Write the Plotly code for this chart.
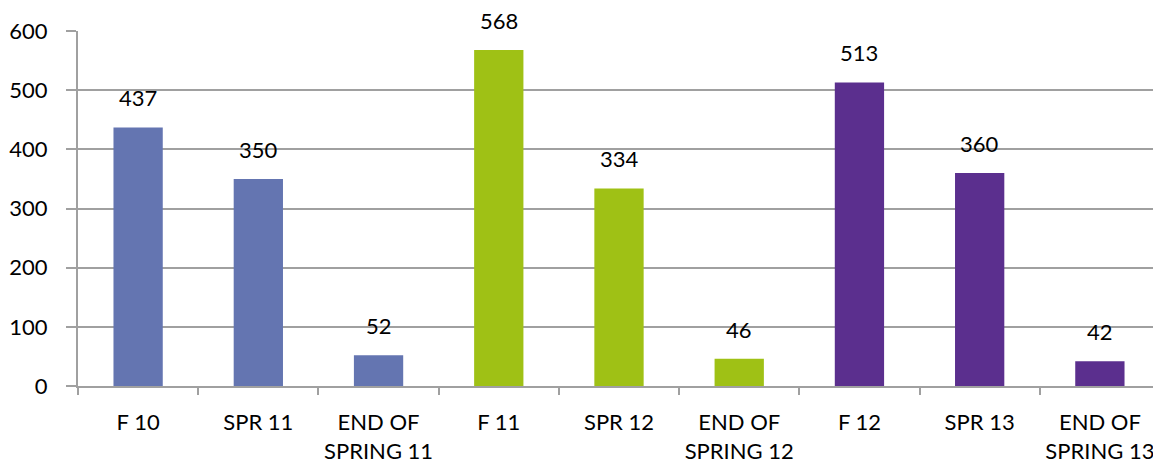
import plotly.graph_objects as go

categories = ['F 10', 'SPR 11', 'END OF<br>SPRING 11',
              'F 11', 'SPR 12', 'END OF<br>SPRING 12',
              'F 12', 'SPR 13', 'END OF<br>SPRING 13']
counts = [437, 350, 52, 568, 334, 46, 513, 360, 42]
year_group = ['2010', '2010', '2010', '2011', '2011', '2011', '2012', '2012', '2012']

group_colors = {'2010': '#6475B1', '2011': '#9FC115', '2012': '#5B2F8E'}
font_family = 'Lato, "Open Sans", sans-serif'
grid_color = '#A0A0A0'

fig = go.Figure()
fig.add_trace(go.Bar(
    x=categories,
    y=counts,
    marker=dict(color=[group_colors[g] for g in year_group], line=dict(width=0)),
    showlegend=False,
))

# value labels above each bar
for cat, val in zip(categories, counts):
    fig.add_annotation(x=cat, y=val, text=str(val), showarrow=False,
                       yanchor='bottom', yshift=14,
                       font=dict(size=22, color='black', family=font_family))

# page body has an 8px margin, so the figure is sized to fit inside the window
fig.update_layout(
    width=1153, height=458,
    margin=dict(l=67, r=1, t=23, b=80),
    plot_bgcolor='white', paper_bgcolor='white',
    bargap=0.59,
    font=dict(family=font_family, size=22, color='black'),
)
fig.update_xaxes(
    showline=True, linecolor=grid_color, linewidth=2,
    ticks='outside', tickson='boundaries', ticklen=7, tickwidth=2, tickcolor=grid_color,
    ticklabelstandoff=16,
    showgrid=False,
)
fig.update_yaxes(
    range=[0, 600], dtick=100,
    showline=True, linecolor=grid_color, linewidth=2,
    ticks='outside', ticklen=10, tickwidth=2, tickcolor=grid_color,
    ticklabelstandoff=14,
    showgrid=True, gridcolor=grid_color, gridwidth=2,
    zeroline=False,
)

fig.write_html("out.html")
